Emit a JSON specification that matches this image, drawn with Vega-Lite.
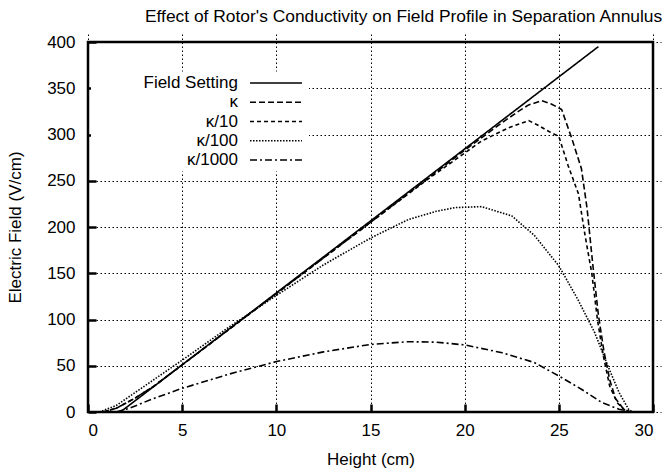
{
  "$schema": "https://vega.github.io/schema/vega-lite/v6.json",
  "width": 565,
  "height": 370,
  "autosize": {"type": "none"},
  "padding": {"left": 88, "top": 42, "right": 17, "bottom": 61},
  "background": "white",
  "config": {
    "font": "Liberation Sans",
    "view": {"stroke": "black", "strokeWidth": 2.5},
    "axis": {
      "domain": false,
      "grid": true,
      "gridColor": "black",
      "gridDash": [1.5, 2.5],
      "gridWidth": 1,
      "gridOpacity": 1,
      "ticks": true,
      "tickColor": "black",
      "tickOpacity": 1,
      "tickWidth": 2.5,
      "tickSize": 8,
      "offset": -8,
      "labelColor": "black",
      "labelFontSize": 17,
      "titleColor": "black",
      "titleFontSize": 17,
      "titleFontWeight": "normal"
    }
  },
  "title": {
    "text": "Effect of Rotor's Conductivity on Field Profile in Separation Annulus",
    "anchor": "end",
    "dx": 8,
    "fontSize": 17.4,
    "fontWeight": "normal",
    "color": "black",
    "baseline": "alphabetic",
    "offset": -6
  },
  "data": {
    "values": [
      {"series": "Field Setting", "h": 1.72, "e": 0},
      {"series": "Field Setting", "h": 5, "e": 51},
      {"series": "Field Setting", "h": 15, "e": 206.5},
      {"series": "Field Setting", "h": 27.1, "e": 395},

      {"series": "κ", "h": 0.8, "e": 0},
      {"series": "κ", "h": 1.5, "e": 4},
      {"series": "κ", "h": 2.5, "e": 15},
      {"series": "κ", "h": 3.5, "e": 28},
      {"series": "κ", "h": 5, "e": 51},
      {"series": "κ", "h": 10, "e": 128},
      {"series": "κ", "h": 15, "e": 205},
      {"series": "κ", "h": 20, "e": 283},
      {"series": "κ", "h": 22, "e": 313},
      {"series": "κ", "h": 22.85, "e": 325},
      {"series": "κ", "h": 23.4, "e": 332},
      {"series": "κ", "h": 24.1, "e": 336.5},
      {"series": "κ", "h": 24.6, "e": 333},
      {"series": "κ", "h": 25.15, "e": 327},
      {"series": "κ", "h": 25.7, "e": 295},
      {"series": "κ", "h": 26.2, "e": 263},
      {"series": "κ", "h": 26.5, "e": 220},
      {"series": "κ", "h": 26.8, "e": 160},
      {"series": "κ", "h": 27.1, "e": 105},
      {"series": "κ", "h": 27.4, "e": 65},
      {"series": "κ", "h": 27.7, "e": 35},
      {"series": "κ", "h": 28.0, "e": 15},
      {"series": "κ", "h": 28.4, "e": 4},
      {"series": "κ", "h": 28.75, "e": 0},

      {"series": "κ/10", "h": 0.8, "e": 0},
      {"series": "κ/10", "h": 1.5, "e": 4},
      {"series": "κ/10", "h": 2.5, "e": 15},
      {"series": "κ/10", "h": 3.5, "e": 28},
      {"series": "κ/10", "h": 5, "e": 51},
      {"series": "κ/10", "h": 10, "e": 128},
      {"series": "κ/10", "h": 15, "e": 205},
      {"series": "κ/10", "h": 18, "e": 251},
      {"series": "κ/10", "h": 20, "e": 280},
      {"series": "κ/10", "h": 20.9, "e": 293},
      {"series": "κ/10", "h": 22.3, "e": 307},
      {"series": "κ/10", "h": 23.4, "e": 315},
      {"series": "κ/10", "h": 23.9, "e": 310},
      {"series": "κ/10", "h": 24.5, "e": 303},
      {"series": "κ/10", "h": 25, "e": 298},
      {"series": "κ/10", "h": 25.5, "e": 266},
      {"series": "κ/10", "h": 26.04, "e": 236},
      {"series": "κ/10", "h": 26.4, "e": 190},
      {"series": "κ/10", "h": 26.75, "e": 150},
      {"series": "κ/10", "h": 27.05, "e": 100},
      {"series": "κ/10", "h": 27.35, "e": 62},
      {"series": "κ/10", "h": 27.7, "e": 28},
      {"series": "κ/10", "h": 28.1, "e": 10},
      {"series": "κ/10", "h": 28.5, "e": 2},
      {"series": "κ/10", "h": 28.85, "e": 0},

      {"series": "κ/100", "h": 0.6, "e": 0},
      {"series": "κ/100", "h": 1.5, "e": 7},
      {"series": "κ/100", "h": 3, "e": 28},
      {"series": "κ/100", "h": 5, "e": 56},
      {"series": "κ/100", "h": 7.5, "e": 92},
      {"series": "κ/100", "h": 10, "e": 126},
      {"series": "κ/100", "h": 12.5, "e": 159},
      {"series": "κ/100", "h": 15, "e": 188},
      {"series": "κ/100", "h": 17, "e": 208},
      {"series": "κ/100", "h": 18.5, "e": 217},
      {"series": "κ/100", "h": 19.5, "e": 221},
      {"series": "κ/100", "h": 20.9, "e": 222},
      {"series": "κ/100", "h": 22.5, "e": 212},
      {"series": "κ/100", "h": 23.7, "e": 191},
      {"series": "κ/100", "h": 25, "e": 158},
      {"series": "κ/100", "h": 26, "e": 122},
      {"series": "κ/100", "h": 26.9, "e": 86},
      {"series": "κ/100", "h": 27.6, "e": 50},
      {"series": "κ/100", "h": 28.2, "e": 21},
      {"series": "κ/100", "h": 28.7, "e": 3},
      {"series": "κ/100", "h": 28.9, "e": 0},

      {"series": "κ/1000", "h": 1.5, "e": 0},
      {"series": "κ/1000", "h": 2.2, "e": 4},
      {"series": "κ/1000", "h": 3.4, "e": 14},
      {"series": "κ/1000", "h": 5, "e": 25.6},
      {"series": "κ/1000", "h": 7.5, "e": 41},
      {"series": "κ/1000", "h": 10, "e": 54.5},
      {"series": "κ/1000", "h": 12.5, "e": 65},
      {"series": "κ/1000", "h": 15, "e": 73},
      {"series": "κ/1000", "h": 17, "e": 76},
      {"series": "κ/1000", "h": 18.5, "e": 75.5},
      {"series": "κ/1000", "h": 20, "e": 72.5},
      {"series": "κ/1000", "h": 22, "e": 64},
      {"series": "κ/1000", "h": 23.7, "e": 53.5},
      {"series": "κ/1000", "h": 25, "e": 39},
      {"series": "κ/1000", "h": 26.2, "e": 24.6},
      {"series": "κ/1000", "h": 27.3, "e": 10},
      {"series": "κ/1000", "h": 28.2, "e": 3},
      {"series": "κ/1000", "h": 28.9, "e": 0}
    ]
  },
  "mark": {"type": "line", "color": "black", "strokeWidth": 1.6},
  "encoding": {
    "x": {
      "field": "h",
      "type": "quantitative",
      "scale": {"domain": [0, 30], "nice": false, "zero": false},
      "axis": {
        "orient": "bottom",
        "title": "Height (cm)",
        "values": [0, 5, 10, 15, 20, 25, 30],
        "labelPadding": 10,
        "titlePadding": 13
      }
    },
    "y": {
      "field": "e",
      "type": "quantitative",
      "scale": {"domain": [0, 400], "nice": false},
      "axis": {
        "orient": "left",
        "title": "Electric Field (V/cm)",
        "values": [0, 50, 100, 150, 200, 250, 300, 350, 400],
        "labelPadding": 13,
        "titlePadding": 22
      }
    },
    "strokeDash": {
      "field": "series",
      "type": "nominal",
      "scale": {
        "domain": ["Field Setting", "κ", "κ/10", "κ/100", "κ/1000"],
        "range": [[1, 0], [6, 3], [4, 3], [1.5, 1.5], [7, 3, 2, 3]]
      },
      "legend": {
        "orient": "none",
        "legendX": 3,
        "legendY": 29.5,
        "title": null,
        "symbolType": "M-5,0H5",
        "symbolSize": 108,
        "symbolStrokeWidth": 1.6,
        "symbolStrokeColor": "black",
        "symbolFillColor": "transparent",
        "labelFontSize": 17,
        "labelColor": "black",
        "labelAlign": "right",
        "symbolOffset": 173.5,
        "labelOffset": -46.5,
        "rowPadding": 1.25,
        "fillColor": "white",
        "padding": 3
      }
    }
  }
}
